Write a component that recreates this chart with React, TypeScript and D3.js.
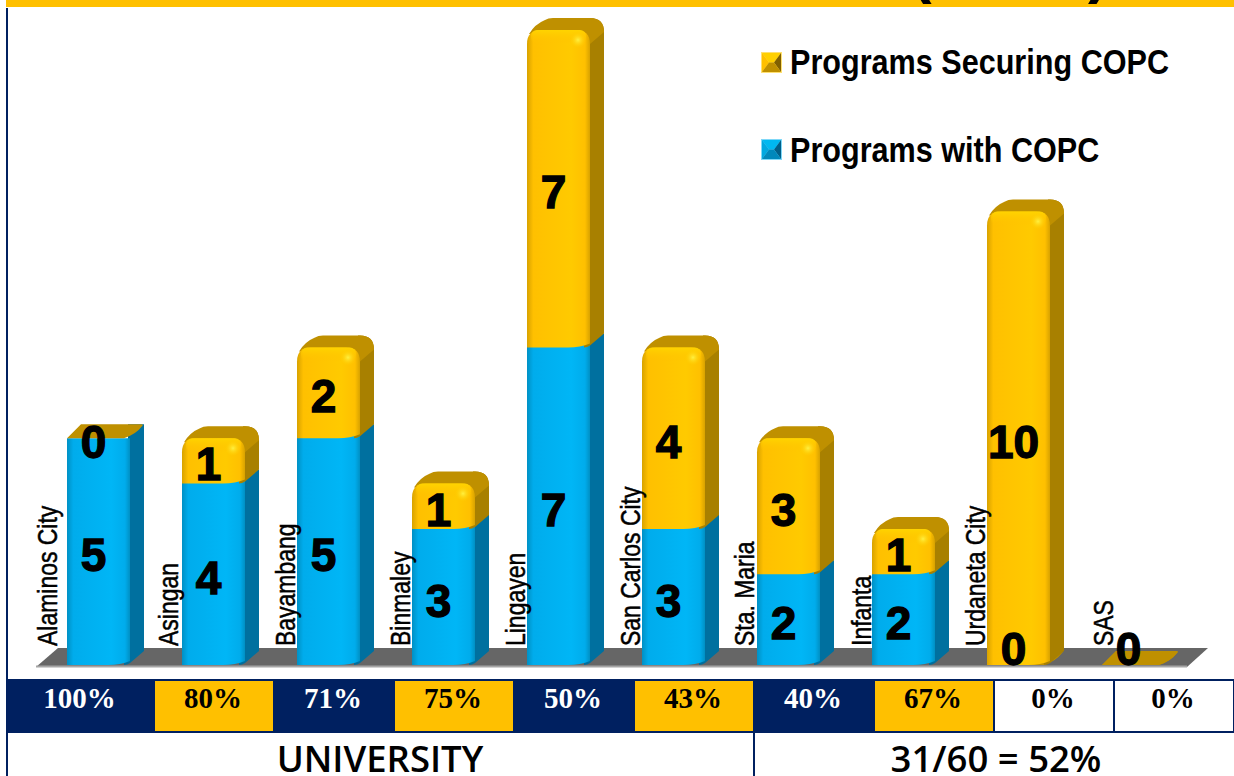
import React from 'react'
import * as d3 from 'd3'

const categories = ['Alaminos City', 'Asingan', 'Bayambang', 'Binmaley', 'Lingayen', 'San Carlos City', 'Sta. Maria', 'Infanta', 'Urdaneta City', 'SAS']
const withCopc = [5, 4, 5, 3, 7, 3, 2, 2, 0, 0]
const securingCopc = [0, 1, 2, 1, 7, 4, 3, 1, 10, 0]
const percents = ['100%', '80%', '71%', '75%', '50%', '43%', '40%', '67%', '0%', '0%']
const seriesNames = ['Programs with COPC', 'Programs Securing COPC']
const footerLabels = ['UNIVERSITY', '31/60 = 52%']

const NAVY = '#002060'
const GOLD = '#FFC000'
const palette = [
  {id: 'blue', side: '#00709F', top: '#0088BB', light: '#7FD8F8', dark: '#005F88'},
  {id: 'gold', side: '#A88000', top: '#BF9000', light: '#FFE070', dark: '#806000'}
]
const W = 1234, H = 776
const BASE = 665, DEPTH = 14, R = 14

// category labels do not sit evenly in the source chart
const labelShift: Record<string, number> = {'Alaminos City': -8, 'Asingan': -2, 'Sta. Maria': -1, 'Infanta': 1, 'SAS': 13}

const rows = categories.map((c, i) => ({c, with: withCopc[i], securing: securingCopc[i]}))
const stacked = d3.stack<any>().keys(['with', 'securing'])(rows)

const x = d3.scaleBand<string>()
  .domain(categories)
  .range([41, 1191])
  .paddingInner(52 / 115)
  .paddingOuter(26 / 115)
const y = d3.scaleLinear().domain([0, 14]).range([BASE, 30])
const colX = d3.scaleLinear().domain([1, 10]).range([154, 1234])

function Segment({x0, w, y0, y1, rounded, covered, color}: any) {
  const d = DEPTH
  const r = rounded ? R : 0
  if (y0 === y1) {
    // zero height, only the lid of the block is visible
    return <path fill={palette[1].top} d={`M${x0},${y0} L${x0 + d},${y0 - d} L${x0 + w + d - 3},${y0 - d} Q${x0 + w + d},${y0 - d} ${x0 + w + d - 2},${y0 - d + 2} Q${x0 + w + d - 8},${y0 - 4} ${x0 + w - 6},${y0} Z`} />
  }
  // the block under a gold one runs up behind it, the gold bottom edge is curved
  const up = covered ? 5 : 0
  const back = rounded ? y1 - d + 2 : y1 - d
  const side = `M${x0 + w - 6},${y0} Q${x0 + w - 3},${y0} ${x0 + w},${y0 - 2} L${x0 + w + d},${y0 - d} L${x0 + w + d},${back + r}` +
    (r ? ` Q${x0 + w + d},${back} ${x0 + w + d - r},${back}` : '') + ` L${x0 + w - 2},${back} L${x0 + w - 2},${y1} Z`
  const lid = `M${x0 + 2},${y1 + 4} Q${x0 + 8},${back + 6} ${x0 + d + 4},${back + 2} Q${x0 + d + 7},${back} ${x0 + d + 12},${back} L${x0 + w + d - r},${back} Q${x0 + w + d},${back} ${x0 + w + d},${back + r} L${x0 + w},${y1 + r} L${x0 + w - 4},${y1 + 4} Z`
  const front = `M${x0},${y0} L${x0},${y1 + r - up}` +
    (r ? ` Q${x0},${y1} ${x0 + r},${y1}` : '') +
    ` L${x0 + w - r},${y1 - up}` +
    (r ? ` Q${x0 + w},${y1} ${x0 + w},${y1 + r}` : '') +
    ` L${x0 + w},${y0 - 4} Q${x0 + w * 0.85},${y0} ${x0 + w * 0.65},${y0} Z`
  return (
    <g>
      <path d={side} fill={color.side} />
      {rounded && <path d={lid} fill={color.top} />}
      <path d={front} fill={`url(#front-${color.id})`} />
      {rounded && <rect x={x0 + 4} y={y1} width={w - 8} height={14} rx={6} fill="url(#bevel)" />}
      {rounded && <ellipse cx={x0 + w - 12} cy={y1 + 10} rx={8} ry={8} fill="url(#spark)" />}
    </g>
  )
}

function Swatch({sx, sy, color}: any) {
  const s = 21
  const m = 8
  const c = s / 2
  const pts = (a: number[][]) => a.map(p => p.join(',')).join(' ')
  return (
    <g>
      <rect x={sx} y={sy} width={s} height={s} fill={color.light} />
      <polygon points={pts([[sx + 1, sy + 1], [sx + s - 1, sy + 1], [sx + s - m, sy + c], [sx + m, sy + c]])} fill={color.id === 'gold' ? '#FFD000' : '#00B8F0'} />
      <polygon points={pts([[sx + 1, sy + 1], [sx + m, sy + c], [sx + 1, sy + s - 1]])} fill={color.id === 'gold' ? '#FFC000' : '#00A8E0'} />
      <polygon points={pts([[sx + s - 1, sy + 1], [sx + s - m, sy + c], [sx + s - 1, sy + s - 1]])} fill={color.dark} />
      <polygon points={pts([[sx + 1, sy + s - 1], [sx + m, sy + c], [sx + s - m, sy + c], [sx + s - 1, sy + s - 1]])} fill={color.top} />
    </g>
  )
}

export default function App() {
  const w = x.bandwidth()
  return (
    <svg width={W} height={H} viewBox={`0 0 ${W} ${H}`} style={{position: 'absolute', left: 0, top: 0, background: '#fff'}}>
      <defs>
        <linearGradient id="front-blue">
          <stop offset="0" stopColor="#0090C4" />
          <stop offset="0.1" stopColor="#00ACEC" />
          <stop offset="0.7" stopColor="#00B6F6" />
          <stop offset="0.92" stopColor="#00ACEC" />
          <stop offset="1" stopColor="#0090C4" />
        </linearGradient>
        <linearGradient id="front-gold">
          <stop offset="0" stopColor="#D8A200" />
          <stop offset="0.1" stopColor="#FFC000" />
          <stop offset="0.7" stopColor="#FFCA00" />
          <stop offset="0.92" stopColor="#FFC000" />
          <stop offset="1" stopColor="#D8A200" />
        </linearGradient>
        <linearGradient id="bevel" x1="0" x2="0" y1="0" y2="1">
          <stop offset="0" stopColor="#FFD400" />
          <stop offset="1" stopColor="#FFC000" stopOpacity="0" />
        </linearGradient>
        <radialGradient id="spark">
          <stop offset="0" stopColor="#FFF040" />
          <stop offset="1" stopColor="#FFD000" stopOpacity="0" />
        </radialGradient>
        <clipPath id="band"><rect x={6} y={0} width={W} height={7} /></clipPath>
      </defs>

      {/* title strip, cut off in the source */}
      <rect x={6} y={0} width={W} height={7} fill={GOLD} />
      <g clipPath="url(#band)" fontFamily="'Liberation Sans'" fontWeight="bold" fontSize={62} fill="#000">
        <text x={911} y={-9}>(</text>
        <text x={1088} y={-9}>)</text>
      </g>
      <line x1={7} x2={7} y1={8} y2={H} stroke={NAVY} strokeWidth={2} />

      {/* floor */}
      <polygon points={`36,${BASE + 2} 58,648 1208,648 1187,${BASE + 2}`} fill="#666666" />
      <line x1={36} x2={1187} y1={BASE + 1.5} y2={BASE + 1.5} stroke="#A6A6A6" strokeWidth={2} />

      {/* bars */}
      {categories.map((c, i) => (
        <g key={c}>
          {stacked.map((s, k) => (
            <Segment
              key={k}
              x0={x(c)}
              w={w}
              y0={y(s[i][0])}
              y1={y(s[i][1])}
              rounded={k === 1 && s[i][1] > s[i][0]}
              covered={k === 0 && securingCopc[i] > 0}
              color={palette[k]}
            />
          ))}
        </g>
      ))}

      {/* category labels */}
      {categories.map(c => (
        <text
          key={c}
          transform={`translate(${x(c)! - 2 + (labelShift[c] || 0)},646) rotate(-90) scale(0.82,1)`}
          fontFamily="'Liberation Sans'"
          fontSize={28}
          stroke="#000"
          strokeWidth={0.5}
          fill="#000"
        >{c}</text>
      ))}

      {/* value labels */}
      {categories.map((c, i) => stacked.map((s, k) => {
        const v = k === 0 ? withCopc[i] : securingCopc[i]
        if (k === 1 && v === 0 && withCopc[i] === 0) return null
        const cy = Math.min(y((s[i][0] + s[i][1]) / 2) + 3, 648)
        return (
          <text
            key={c + k}
            x={x(c)! + 26.5}
            y={cy}
            dy=".36em"
            textAnchor="middle"
            fontFamily="'Liberation Sans'"
            fontWeight="bold"
            fontSize={46}
            stroke="#000"
            strokeWidth={1.3}
            fill="#000"
          >{v}</text>
        )
      }))}

      {/* legend */}
      {[1, 0].map((k, row) => (
        <g key={k}>
          <Swatch sx={761} sy={52 + row * 87} color={palette[k]} />
          <text
            transform={`translate(790,${74 + row * 88}) scale(0.85,1)`}
            fontFamily="'Liberation Sans'"
            fontWeight="bold"
            fontSize={36}
            fill="#000"
          >{seriesNames[k]}</text>
        </g>
      ))}

      {/* percent row */}
      {percents.map((p, i) => {
        const x0 = i === 0 ? 7 : colX(i)
        const x1 = colX(i + 1)
        const fill = i > 7 ? '#fff' : i % 2 === 0 ? NAVY : GOLD
        return (
          <g key={i}>
            <rect x={x0} y={680} width={x1 - x0} height={52} fill={fill} stroke={NAVY} strokeWidth={2} />
            <text
              x={(x0 + x1) / 2 - 1}
              y={708}
              textAnchor="middle"
              fontFamily="'Liberation Serif'"
              fontWeight="bold"
              fontSize={29}
              fill={i % 2 === 0 && i < 8 ? '#fff' : '#000'}
            >{p}</text>
          </g>
        )
      })}

      {/* footer */}
      <line x1={754} x2={754} y1={732} y2={H} stroke={NAVY} strokeWidth={2} />
      <g fontFamily="'Open Sans'" fontWeight={600} fontSize={36.5} fill="#000" textAnchor="middle">
        <text x={380} y={772}>{footerLabels[0]}</text>
        <text x={996} y={772}>{footerLabels[1]}</text>
      </g>
    </svg>
  )
}
